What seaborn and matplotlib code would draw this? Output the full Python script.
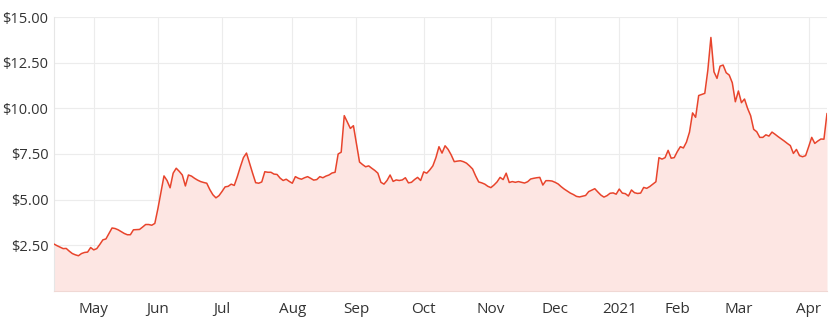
import matplotlib
matplotlib.use("Agg")
import matplotlib.pyplot as plt
import seaborn as sns
import numpy as np
import pandas as pd

# ASX trading days, 14 Apr 2020 .. 13 Apr 2021
start_date = "2020-04-14"
end_date = "2021-04-13"
holidays = ["2020-06-08", "2020-12-25", "2020-12-28", "2021-01-01",
            "2021-01-26", "2021-04-02", "2021-04-05"]

# Closing prices by month (one value per trading day)
apr20 = [2.57, 2.48, 2.40, 2.32, 2.33, 2.18, 2.05, 1.98, 1.93, 2.05, 2.11, 2.13, 2.38]
may20 = [2.25, 2.32, 2.55, 2.80, 2.85, 3.15, 3.45, 3.42, 3.35, 3.25, 3.15, 3.08, 3.08,
         3.35, 3.36, 3.37, 3.50, 3.64, 3.64, 3.60, 3.70]
jun20 = [4.50, 5.40, 6.30, 6.05, 5.65, 6.45, 6.72, 6.55, 6.35, 5.75, 6.35, 6.29, 6.17,
         6.07, 5.99, 5.94, 5.90, 5.55, 5.27, 5.10, 5.22]
jul20 = [5.45, 5.70, 5.73, 5.85, 5.78, 6.26, 6.80, 7.30, 7.55, 7.00, 6.45, 5.93, 5.90,
         5.97, 6.53, 6.50, 6.50, 6.40, 6.38, 6.18, 6.05, 6.12, 6.00]
aug20 = [5.90, 6.26, 6.17, 6.12, 6.20, 6.26, 6.17, 6.07, 6.10, 6.26, 6.20, 6.29, 6.35,
         6.46, 6.50, 7.50, 7.60, 9.60, 9.25, 8.90, 9.05]
sep20 = [8.05, 7.06, 6.92, 6.80, 6.85, 6.72, 6.60, 6.45, 5.95, 5.85, 6.05, 6.35, 6.00,
         6.08, 6.05, 6.08, 6.20, 5.92, 5.95, 6.10, 6.22, 6.05]
oct20 = [6.52, 6.45, 6.63, 6.85, 7.30, 7.90, 7.55, 7.95, 7.75, 7.45, 7.08, 7.11, 7.13,
         7.08, 7.00, 6.85, 6.68, 6.30, 5.97, 5.92, 5.85, 5.73]
nov20 = [5.66, 5.80, 5.97, 6.22, 6.10, 6.45, 5.94, 5.99, 5.95, 5.99, 5.95, 5.91, 5.98,
         6.13, 6.17, 6.20, 6.22, 5.80, 6.04, 6.04, 6.02]
dec20 = [5.95, 5.86, 5.71, 5.58, 5.47, 5.36, 5.28, 5.18, 5.15, 5.19, 5.23, 5.44, 5.52,
         5.60, 5.42, 5.25, 5.14, 5.22, 5.35, 5.37, 5.30]
jan21 = [5.58, 5.36, 5.33, 5.20, 5.53, 5.38, 5.34, 5.36, 5.67, 5.62, 5.72, 5.85, 5.98,
         7.30, 7.22, 7.30, 7.70, 7.27, 7.30]
feb21 = [7.63, 7.90, 7.83, 8.15, 8.70, 9.75, 9.51, 10.70, 10.76, 10.82, 12.09, 13.88,
         12.00, 11.64, 12.31, 12.37, 11.95, 11.82, 11.40, 10.36]
mar21 = [10.95, 10.31, 10.51, 10.00, 9.60, 8.85, 8.72, 8.41, 8.41, 8.55, 8.48, 8.70,
         8.58, 8.45, 8.33, 8.21, 8.08, 7.96, 7.53, 7.75, 7.41, 7.35, 7.41]
apr21 = [7.90, 8.41, 8.08, 8.21, 8.32, 8.31, 9.72]

y_ticks = [2.5, 5.0, 7.5, 10.0, 12.5, 15.0]

prices = apr20 + may20 + jun20 + jul20 + aug20 + sep20 + oct20 + nov20 + dec20 + jan21 + feb21 + mar21 + apr21
dates = pd.bdate_range(start_date, end_date, freq="C", holidays=holidays)
df = pd.DataFrame({"date": dates, "price": prices})
df["pos"] = np.arange(len(df))

# first trading day of each month (except the partial first month)
month_key = df["date"].dt.to_period("M")
firsts = df[month_key != month_key.shift()].iloc[1:]
tick_pos = firsts["pos"].tolist()
tick_lab = [d.strftime("%Y") if d.month == 1 else d.strftime("%b") for d in firsts["date"]]

sns.set_theme(style="white")
plt.rcParams["font.family"] = ["Open Sans", "DejaVu Sans"]

line_c = "#e8442c"
fill_c = "#fde6e3"

fig = plt.figure(figsize=(8.37, 3.32), dpi=100)
ax = fig.add_axes([54 / 837, 1 - 291 / 332, 773 / 837, 274 / 332])

ax.fill_between(df["pos"], df["price"], 0, color=fill_c, linewidth=0, zorder=1)
sns.lineplot(data=df, x="pos", y="price", ax=ax, color=line_c, linewidth=1.1, zorder=3)

ax.set_xlim(0, len(df) - 1)
ax.set_ylim(0, 15)
ax.set_yticks(y_ticks)
ax.set_yticklabels([f"${v:,.2f}" for v in y_ticks])
ax.set_xticks(tick_pos)
ax.set_xticklabels(tick_lab)
ax.set_xlabel("")
ax.set_ylabel("")

ax.grid(True, color="#ececec", linewidth=0.8, zorder=0)
ax.set_axisbelow(True)
for s in ["top", "right"]:
    ax.spines[s].set_visible(False)
ax.spines["left"].set_color("#e6e6e6")
ax.spines["left"].set_linewidth(0.8)
ax.spines["bottom"].set_color("#f0d8d4")
ax.spines["bottom"].set_linewidth(0.8)

ax.tick_params(axis="both", length=0, colors="#333333")
ax.tick_params(axis="y", pad=4, labelsize=10.5)
ax.tick_params(axis="x", pad=8, labelsize=11)

fig.savefig("out.png", dpi=100)
